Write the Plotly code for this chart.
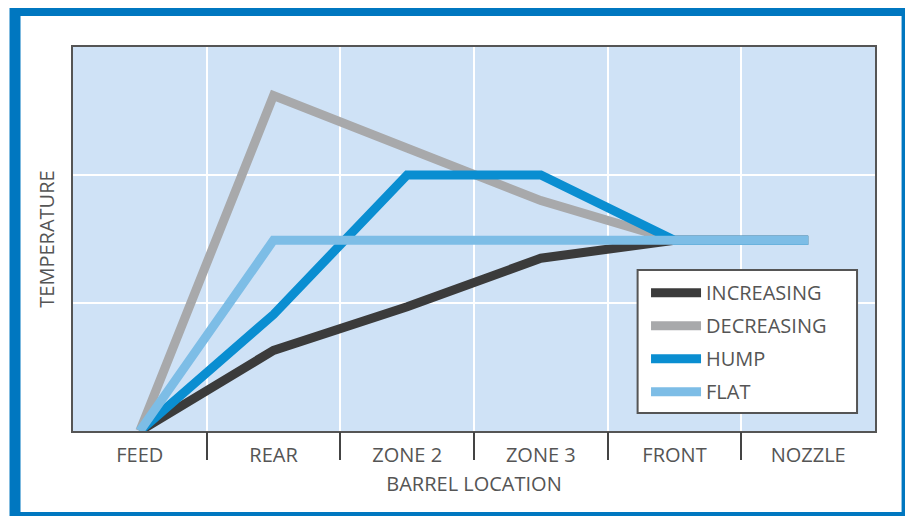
import plotly.graph_objects as go

locations = ["FEED", "REAR", "ZONE 2", "ZONE 3", "FRONT", "NOZZLE"]
increasing = [0, 0.63, 0.97, 1.35, 1.49, 1.49]
decreasing = [0, 2.62, 2.21, 1.80, 1.49, 1.49]
hump = [0, 0.91, 2.0, 2.0, 1.49, 1.49]
flat = [0, 1.49, 1.49, 1.49, 1.49, 1.49]

series = [("INCREASING", increasing, "#3b3b3b"),
          ("DECREASING", decreasing, "#a8a9ab"),
          ("HUMP", hump, "#0a8ed1"),
          ("FLAT", flat, "#7dbde6")]

font = "Open Sans, Lato, sans-serif"
grey = "#555555"

fig = go.Figure()
for name, vals, color in series:
    fig.add_trace(go.Scatter(x=locations, y=vals, mode="lines", name=name,
                             legendgroup=name,
                             line=dict(color=color, width=9)))
# empty trace so the overlay axis (interior ticks only) gets drawn
fig.add_trace(go.Scatter(x=[], y=[], xaxis="x2", showlegend=False, hoverinfo="skip"))

# page body has an 8px margin, so the figure is sized 8px smaller
fig.update_layout(
    width=905, height=508,
    margin=dict(l=65, r=38, t=39, b=85),
    paper_bgcolor="white", plot_bgcolor="#cfe2f6",
    font=dict(family=font, size=20, color=grey),
    showlegend=True,
    legend=dict(x=0.7145, y=0.411, xanchor="left", yanchor="top",
                bgcolor="rgba(0,0,0,0)", borderwidth=0,
                font=dict(size=20, color=grey),
                itemwidth=50, traceorder="grouped", tracegroupgap=4),
    shapes=[dict(type="rect", xref="paper", yref="paper",
                 x0=-0.0723, x1=1.04, y0=-0.2253, y1=1.095,
                 line=dict(color="#0077c0", width=11), layer="below"),
            # legend box
            dict(type="rect", xref="paper", yref="paper",
                 x0=0.704, x1=0.9776, y0=0.047, y1=0.419,
                 fillcolor="white", line=dict(color=grey, width=2), layer="above")],
)

fig.update_xaxes(
    type="category", range=[-0.5, 5.5],
    showgrid=True, gridcolor="white", gridwidth=2,
    tickson="boundaries", ticks="outside", ticklen=28, tickwidth=2,
    tickcolor="rgba(0,0,0,0)",
    ticklabelstandoff=5,
    showline=True, linecolor=grey, linewidth=2, mirror=True,
    title=dict(text="BARREL LOCATION", standoff=10, font=dict(size=20, color=grey)),
    tickfont=dict(size=20, color=grey),
)
fig.update_layout(xaxis2=dict(
    overlaying="x", anchor="y", side="bottom", range=[-0.5, 5.5],
    tickvals=[0.5, 1.5, 2.5, 3.5, 4.5], showticklabels=False,
    ticks="outside", ticklen=28, tickwidth=2, tickcolor="#444444",
    showgrid=False, showline=False, zeroline=False,
))
fig.update_yaxes(
    range=[0, 3], tickvals=[1, 2], showticklabels=False,
    showgrid=True, gridcolor="white", gridwidth=2, zeroline=False,
    showline=True, linecolor=grey, linewidth=2, mirror=True,
    title=dict(text="TEMPERATURE", standoff=11, font=dict(size=20, color=grey)),
)

fig.write_html("out.html")
